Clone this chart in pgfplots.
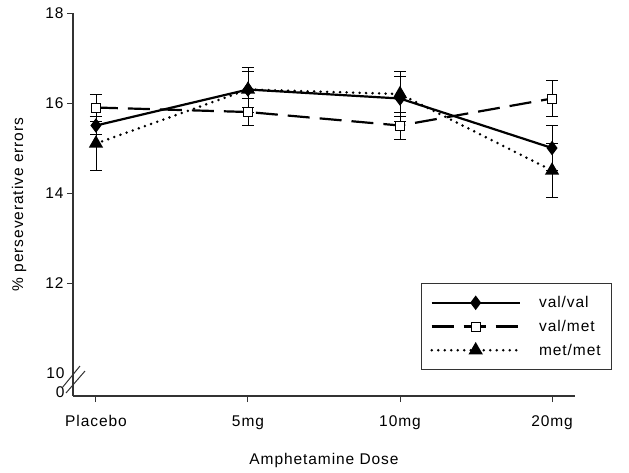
\documentclass[border=0pt]{standalone}
\usepackage{fontspec}
\setmainfont{Liberation Sans}[LetterSpace=6]
\usepackage{pgfplots}
\pgfplotsset{compat=1.18}

\begin{document}
\begin{tikzpicture}[font=\fontsize{15.5}{18}\selectfont]
\begin{axis}[
  scale only axis,
  width=502pt, height=383pt,
  xmin=-0.151, xmax=3.151,
  ymin=9.49, ymax=18,
  clip=false,
  axis lines=left,
  axis line style={line width=1.1pt, color=black!80, -},
  xtick={0,1,2,3}, xticklabels={Placebo,5mg,10mg,20mg},
  xticklabel style={yshift=-10pt},
  ytick={12,14,16,18},
  extra y ticks={9.58,10},
  extra y tick labels={{0\kern5pt},{10\kern5pt}},
  extra y tick style={major tick length=0pt},
  tick align=outside,
  major tick length=6pt,
  tick style={line width=1pt, color=black!80},
  /pgf/number format/assume math mode=true,
  xlabel={Amphetamine Dose},
  ylabel={\% perseverative errors},
  xlabel style={yshift=-17pt},
  ylabel style={yshift=6pt},
  legend style={at={(0.693,0.295)}, anchor=north west, draw=black!80, line width=0.8pt,
    inner xsep=9pt, inner ysep=11pt, row sep=7pt,
    /tikz/every odd column/.append style={column sep=16pt}},
  legend cell align=left,
  legend image code/.code={\draw[mark repeat=2,mark phase=2] plot coordinates {(0pt,0pt) (44pt,0pt) (88pt,0pt)};},
  error bars/y dir=both, error bars/y explicit,
  error bars/error bar style={line width=0.9pt, solid, black},
  error bars/error mark options={rotate=90, mark size=6pt, line width=0.9pt, solid, black},
]
\addplot[black, line width=2.2pt, mark=diamond*, mark size=5.5pt, mark options={solid, fill=black}]
  coordinates {(0,15.5) +- (0,0.2) (1,16.3) +- (0,0.5) (2,16.1) +- (0,0.5) (3,15.0) +- (0,0.5)};
\addlegendentry{val/val}
\addplot[black, line width=2.2pt, dash pattern=on 22pt off 10pt, mark=square*, mark size=4.5pt, mark options={solid, fill=white, line width=1pt}]
  coordinates {(0,15.9) +- (0,0.3) (1,15.8) +- (0,0.3) (2,15.5) +- (0,0.3) (3,16.1) +- (0,0.4)};
\addlegendentry{val/met}
\addplot[black, line width=2.8pt, line cap=round, dash pattern=on 0pt off 6.5pt, mark=triangle*, mark size=5.5pt, mark options={solid, fill=black}]
  coordinates {(0,15.1) +- (0,0.6) (1,16.3) +- (0,0.4) (2,16.2) +- (0,0.5) (3,14.5) +- (0,0.6)};
\addlegendentry{met/met}
\draw[line width=1pt, black!80] ([shift={(-11pt,8pt)}]rel axis cs:0,0) -- ([shift={(7pt,30pt)}]rel axis cs:0,0);
\draw[line width=1pt, black!80] ([shift={(-7pt,3pt)}]rel axis cs:0,0) -- ([shift={(12pt,25pt)}]rel axis cs:0,0);
\path ([shift={(-73pt,-76pt)}]rel axis cs:0,0) rectangle ([shift={(54pt,13pt)}]rel axis cs:1,1);
\end{axis}
\end{tikzpicture}
\end{document}
